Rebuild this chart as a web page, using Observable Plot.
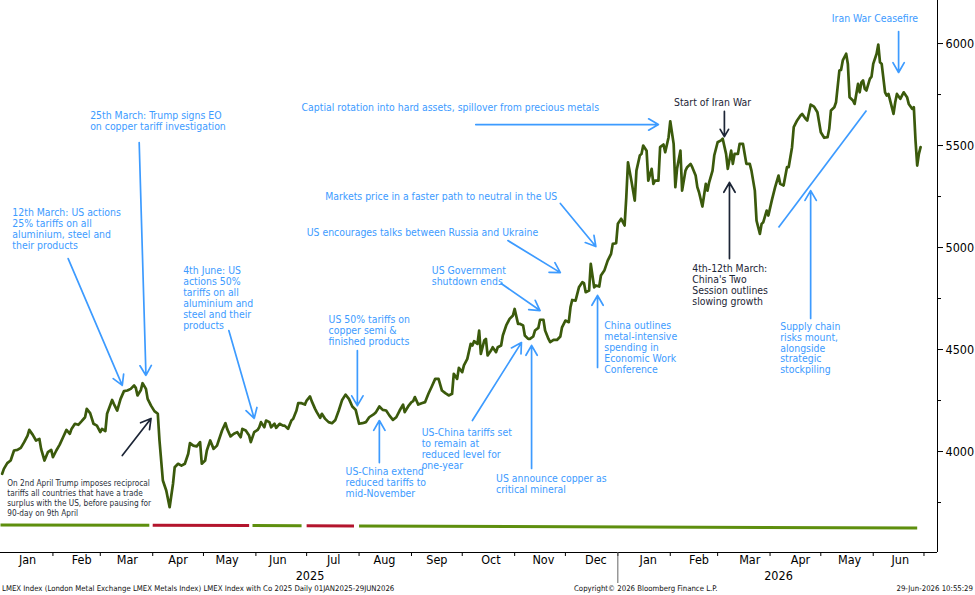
<!DOCTYPE html>
<html><head><meta charset="utf-8">
<script src="https://cdn.jsdelivr.net/npm/d3@7"></script>
<script src="https://cdn.jsdelivr.net/npm/@observablehq/plot@0.6"></script>
<style>
body{margin:0;background:#fff;}
#wrap{width:975px;height:595px;position:relative;overflow:hidden;background:#fff;font-family:"DejaVu Sans Condensed","DejaVu Sans",sans-serif;}
#footer{position:absolute;left:0;top:583px;width:975px;height:12px;font-size:7.75px;color:#111;}
#footer span{position:absolute;top:1px;white-space:nowrap;}
</style></head><body>
<div id="wrap"><div id="chart"></div>
<div id="footer"><span id="f1" style="left:2px"></span><span id="f2" style="left:574px"></span><span id="f3" style="right:2px"></span></div>
</div>
<script>
// ---- LMEX index series ----
const dates = ["2025-01-02","2025-01-03","2025-01-05","2025-01-07","2025-01-09","2025-01-11","2025-01-13","2025-01-15","2025-01-17","2025-01-18","2025-01-20","2025-01-22","2025-01-24","2025-01-25","2025-01-27","2025-01-29","2025-01-31","2025-02-01","2025-02-03","2025-02-05","2025-02-07","2025-02-09","2025-02-11","2025-02-12","2025-02-14","2025-02-16","2025-02-18","2025-02-20","2025-02-21","2025-02-23","2025-02-25","2025-02-27","2025-03-01","2025-03-02","2025-03-04","2025-03-05","2025-03-08","2025-03-09","2025-03-11","2025-03-13","2025-03-15","2025-03-17","2025-03-19","2025-03-21","2025-03-22","2025-03-23","2025-03-25","2025-03-26","2025-03-28","2025-03-29","2025-03-31","2025-04-02","2025-04-04","2025-04-05","2025-04-07","2025-04-09","2025-04-11","2025-04-13","2025-04-14","2025-04-16","2025-04-18","2025-04-20","2025-04-22","2025-04-23","2025-04-25","2025-04-27","2025-04-29","2025-04-30","2025-05-02","2025-05-03","2025-05-05","2025-05-07","2025-05-09","2025-05-10","2025-05-12","2025-05-14","2025-05-15","2025-05-17","2025-05-19","2025-05-21","2025-05-23","2025-05-24","2025-05-26","2025-05-28","2025-05-29","2025-05-31","2025-06-02","2025-06-03","2025-06-04","2025-06-06","2025-06-07","2025-06-09","2025-06-10","2025-06-12","2025-06-13","2025-06-15","2025-06-17","2025-06-18","2025-06-20","2025-06-22","2025-06-23","2025-06-25","2025-06-26","2025-06-28","2025-06-30","2025-07-01","2025-07-03","2025-07-04","2025-07-06","2025-07-07","2025-07-09","2025-07-10","2025-07-12","2025-07-14","2025-07-16","2025-07-18","2025-07-20","2025-07-22","2025-07-24","2025-07-26","2025-07-28","2025-07-30","2025-08-01","2025-08-03","2025-08-05","2025-08-07","2025-08-10","2025-08-11","2025-08-13","2025-08-15","2025-08-17","2025-08-19","2025-08-21","2025-08-23","2025-08-25","2025-08-27","2025-08-28","2025-08-30","2025-09-01","2025-09-02","2025-09-03","2025-09-05","2025-09-07","2025-09-09","2025-09-11","2025-09-13","2025-09-15","2025-09-17","2025-09-19","2025-09-21","2025-09-23","2025-09-25","2025-09-26","2025-09-28","2025-09-29","2025-10-01","2025-10-02","2025-10-04","2025-10-06","2025-10-07","2025-10-08","2025-10-10","2025-10-11","2025-10-12","2025-10-14","2025-10-15","2025-10-16","2025-10-18","2025-10-19","2025-10-21","2025-10-22","2025-10-24","2025-10-25","2025-10-27","2025-10-29","2025-10-31","2025-11-01","2025-11-03","2025-11-04","2025-11-06","2025-11-07","2025-11-09","2025-11-10","2025-11-12","2025-11-13","2025-11-15","2025-11-16","2025-11-18","2025-11-19","2025-11-21","2025-11-22","2025-11-24","2025-11-26","2025-11-28","2025-11-29","2025-12-01","2025-12-03","2025-12-04","2025-12-05","2025-12-07","2025-12-09","2025-12-11","2025-12-12","2025-12-13","2025-12-15","2025-12-16","2025-12-18","2025-12-19","2025-12-21","2025-12-22","2025-12-24","2025-12-26","2025-12-28","2025-12-29","2025-12-31","2026-01-01","2026-01-03","2026-01-05","2026-01-06","2026-01-07","2026-01-09","2026-01-11","2026-01-12","2026-01-14","2026-01-15","2026-01-16","2026-01-18","2026-01-19","2026-01-21","2026-01-22","2026-01-23","2026-01-25","2026-01-26","2026-01-28","2026-01-29","2026-01-31","2026-02-01","2026-02-03","2026-02-04","2026-02-05","2026-02-07","2026-02-08","2026-02-10","2026-02-11","2026-02-13","2026-02-14","2026-02-16","2026-02-17","2026-02-18","2026-02-20","2026-02-22","2026-02-23","2026-02-24","2026-02-26","2026-02-27","2026-03-01","2026-03-03","2026-03-04","2026-03-06","2026-03-07","2026-03-09","2026-03-10","2026-03-11","2026-03-13","2026-03-14","2026-03-16","2026-03-17","2026-03-18","2026-03-20","2026-03-21","2026-03-23","2026-03-24","2026-03-26","2026-03-27","2026-03-28","2026-03-30","2026-03-31","2026-04-02","2026-04-04","2026-04-06","2026-04-07","2026-04-09","2026-04-11","2026-04-12","2026-04-14","2026-04-15","2026-04-17","2026-04-19","2026-04-20","2026-04-22","2026-04-23","2026-04-25","2026-04-27","2026-04-29","2026-04-30","2026-05-01","2026-05-03","2026-05-05","2026-05-06","2026-05-07","2026-05-09","2026-05-10","2026-05-12","2026-05-13","2026-05-14","2026-05-16","2026-05-17","2026-05-18","2026-05-20","2026-05-21","2026-05-23","2026-05-24","2026-05-25","2026-05-26","2026-05-27","2026-05-28","2026-05-30","2026-05-31","2026-06-01","2026-06-03","2026-06-04","2026-06-05","2026-06-06","2026-06-08","2026-06-09","2026-06-10","2026-06-12","2026-06-13","2026-06-14","2026-06-15","2026-06-17","2026-06-18","2026-06-19","2026-06-21","2026-06-22","2026-06-24","2026-06-25","2026-06-26","2026-06-27","2026-06-28","2026-06-29"];
const lmex = [3891,3915,3943,3956,4005,4008,4018,4046,4078,4106,4083,4054,4062,4013,3956,3997,4008,3972,4005,4034,4070,4106,4087,4111,4136,4131,4149,4168,4209,4188,4136,4127,4095,4111,4100,4185,4253,4234,4201,4258,4296,4299,4307,4324,4312,4275,4302,4335,4307,4258,4225,4198,4185,4054,3858,3809,3727,3842,3923,3940,3931,3940,3989,4041,4029,4025,4046,3940,3956,4005,4054,4013,4029,4054,4103,4139,4111,4074,4087,4095,4070,4111,4103,4078,4046,4095,4106,4119,4144,4119,4152,4144,4119,4136,4116,4136,4127,4127,4111,4152,4160,4201,4237,4237,4230,4250,4270,4247,4209,4193,4165,4185,4160,4144,4139,4155,4201,4253,4279,4258,4221,4204,4136,4139,4144,4168,4185,4193,4221,4204,4201,4176,4155,4168,4201,4230,4193,4221,4242,4247,4267,4230,4237,4242,4283,4319,4356,4356,4299,4286,4275,4283,4381,4356,4410,4389,4422,4454,4528,4520,4541,4528,4593,4479,4544,4552,4471,4495,4511,4487,4511,4520,4569,4618,4650,4667,4699,4626,4626,4618,4569,4552,4552,4564,4593,4606,4646,4646,4593,4552,4536,4547,4547,4564,4609,4642,4634,4707,4743,4740,4805,4830,4825,4781,4789,4920,4805,4814,4809,4863,4887,4936,4969,5018,5021,5116,5141,5108,5247,5418,5328,5230,5377,5451,5459,5500,5475,5328,5386,5312,5328,5328,5492,5505,5467,5541,5619,5508,5296,5386,5475,5279,5377,5394,5410,5394,5353,5296,5271,5201,5312,5279,5320,5377,5451,5516,5525,5533,5459,5386,5475,5410,5459,5459,5508,5508,5459,5410,5410,5377,5279,5132,5067,5116,5124,5181,5157,5230,5296,5353,5312,5304,5394,5394,5492,5590,5623,5647,5655,5631,5623,5701,5691,5663,5614,5565,5538,5541,5582,5672,5688,5712,5868,5871,5917,5950,5900,5737,5721,5704,5802,5761,5810,5819,5778,5770,5827,5838,5900,5950,5995,5908,5900,5761,5745,5753,5688,5655,5712,5753,5729,5745,5761,5737,5704,5680,5688,5525,5402,5459,5492];

// ---- regime bar under the chart ----
const barStart = ["2025-01-01","2025-04-01","2025-05-30","2025-07-01","2025-08-01"];
const barEnd   = ["2025-03-30","2025-05-28","2025-06-28","2025-07-29","2026-06-27"];
const barState = ["up","down","up","down","up"];
const barLevelStart = [3640,3638,3637,3636,3635];
const barLevelEnd   = [3639,3637,3636,3635,3625];

// ---- axis ticks and labels ----
const yTicks = [4000,4500,5000,5500,6000];
const yMinorTicks = [3750,4250,4750,5250,5750];
const monthStarts = ["2025-02-01","2025-03-01","2025-04-01","2025-05-01","2025-06-01","2025-07-01","2025-08-01","2025-09-01","2025-10-01","2025-11-01","2025-12-01","2026-01-01","2026-02-01","2026-03-01","2026-04-01","2026-05-01","2026-06-01","2026-07-01"];
const monthLabelDates = ["2025-01-17","2025-02-18","2025-03-17","2025-04-16","2025-05-15","2025-06-14","2025-07-17","2025-08-16","2025-09-16","2025-10-18","2025-11-18","2025-12-19","2026-01-19","2026-02-18","2026-03-20","2026-04-19","2026-05-18","2026-06-17"];
const monthLabels = ["Jan","Feb","Mar","Apr","May","Jun","Jul","Aug","Sep","Oct","Nov","Dec","Jan","Feb","Mar","Apr","May","Jun"];
const yearLabelDates = ["2025-07-03","2026-04-06"];
const yearLabels = ["2025","2026"];
const yearBreaks = ["2026-01-01"];

// ---- annotations ----
const noteText = [
  "25th March: Trump signs EO\non copper tariff investigation",
  "12th March: US actions\n25% tariffs on all\naluminium, steel and\ntheir products",
  "4th June: US\nactions 50%\ntariffs on all\naluminium and\nsteel and their\nproducts",
  "US 50% tariffs on\ncopper semi &\nfinished products",
  "US-China extend\nreduced tariffs to\nmid-November",
  "US Government\nshutdown ends",
  "US-China tariffs set\nto remain at\nreduced level for\none-year",
  "US announce copper as\ncritical mineral",
  "China outlines\nmetal-intensive\nspending in\nEconomic Work\nConference",
  "Supply chain\nrisks mount,\nalongside\nstrategic\nstockpiling",
  "Captial rotation into hard assets, spillover from precious metals",
  "US encourages talks between Russia and Ukraine",
  "Markets price in a faster path to neutral in the US",
  "4th-12th March:\nChina's Two\nSession outlines\nslowing growth",
  "Start of Iran War",
  "Iran War Ceasefire",
  "On 2nd April Trump imposes reciprocal\ntariffs all countries that have a trade\nsurplus with the US, before pausing for\n90-day on 9th April"
];
const noteDate = ["2025-02-23","2025-01-08","2025-04-19","2025-07-14","2025-07-24","2025-09-13","2025-09-07","2025-10-21","2025-12-24","2026-04-07","2025-06-28","2025-07-01","2025-07-12","2026-02-14","2026-02-26","2026-06-02","2025-01-05"];
const noteValue = [5667,5191,4907,4669,3924,4907,4113,3887,4637,4635,5706,5096,5272,4917,5730,6140,3868];
const noteKind = ["blue","blue","blue","blue","blue","blue","blue","blue","blue","blue","blue","blue","blue","dark","darkMid","blueMid","darkSmall"];

const arrowFromDate = ["2025-03-24","2025-02-10","2025-05-16","2025-07-31","2025-08-13","2025-10-24","2025-10-28","2025-11-28","2025-10-09","2025-10-07","2025-11-11","2025-12-20","2026-03-05","2026-03-08","2026-04-25","2026-06-16","2025-03-14","2026-04-06"];
const arrowFromValue = [5515,4946,4593,4495,3946,4824,5034,5216,5603,4152,3917,4412,5667,4946,4652,6059,3980,5098];
const arrowToDate = ["2025-03-28","2025-03-14","2025-05-31","2025-07-31","2025-08-13","2025-11-16","2025-11-28","2025-12-19","2026-01-25","2025-11-05","2025-11-11","2025-12-20","2026-03-05","2026-03-08","2026-04-25","2026-06-16","2025-03-31","2026-05-28"];
const arrowToValue = [4373,4324,4162,4225,4152,4691,4877,5005,5603,4534,4520,4765,5544,5319,5279,5858,4162,5672];
const arrowKind = ["blue","blue","blue","blue","blue","blue","blue","blue","blue","blue","blue","blue","dark","dark","blue","blue","dark","blueLine"];

const footerLeft = "LMEX Index (London Metal Exchange LMEX Metals Index) LMEX Index with Co 2025 Daily 01JAN2025-29JUN2026";
const footerMid = "Copyright\u00A9 2026 Bloomberg Finance L.P.";
const footerRight = "29-Jun-2026 10:55:29";

// ---- build ----
const parse = d3.utcParse("%Y-%m-%d");
const series = dates.map((d, i) => ({date: parse(d), value: lmex[i]}));
const bars = barStart.map((d, i) => ({x1: parse(d), x2: parse(barEnd[i]), y1: barLevelStart[i], y2: barLevelEnd[i], state: barState[i]}));
const notes = noteText.map((t, i) => ({text: t, date: parse(noteDate[i]), value: noteValue[i], kind: noteKind[i]}));
const arrows = arrowFromDate.map((d, i) => ({x1: parse(d), y1: arrowFromValue[i], x2: parse(arrowToDate[i]), y2: arrowToValue[i], kind: arrowKind[i]}));
const monthLabelMap = new Map(monthLabelDates.map((d, i) => [+parse(d), monthLabels[i]]));
const yearLabelMap = new Map(yearLabelDates.map((d, i) => [+parse(d), yearLabels[i]]));

const BLUE = "#3d9bff", DARK = "#1c2536", LINE = "#3b5a0c";
const FONT = "'DejaVu Sans Condensed','DejaVu Sans',sans-serif";
const xEnd = parse("2026-07-09");
const NOTE = 10.4;

const chart = Plot.plot({
  width: 975, height: 583,
  marginLeft: 0, marginRight: 38, marginTop: 0, marginBottom: 31,
  style: {fontFamily: FONT, fontSize: "12px", color: "#000", background: "#fff", overflow: "visible"},
  x: {type: "utc", domain: [parse("2025-01-01"), xEnd], axis: null},
  y: {domain: [3505, 6211], axis: null},
  marks: [
    Plot.ruleY([3505], {stroke: "#000", strokeWidth: 1}),
    Plot.ruleX([xEnd], {stroke: "#000", strokeWidth: 1}),
    Plot.axisY({anchor: "right", ticks: yTicks, tickSize: 5, tickPadding: 3, tickFormat: d3.format("d"), fontSize: 12.5, stroke: "#000"}),
    Plot.axisY({anchor: "right", ticks: yMinorTicks, tickSize: 3, tickFormat: () => "", stroke: "#000"}),
    Plot.axisX({anchor: "bottom", ticks: monthStarts.map(parse), tickSize: 4, tickFormat: () => "", stroke: "#000"}),
    Plot.axisX({anchor: "bottom", ticks: monthLabelDates.map(parse), tickSize: 0, tickPadding: 3, tickFormat: d => monthLabelMap.get(+d), fontSize: 12.5}),
    Plot.axisX({anchor: "bottom", ticks: yearLabelDates.map(parse), tickSize: 0, tickPadding: 19, tickFormat: d => yearLabelMap.get(+d), fontSize: 12.5}),
    Plot.axisX({anchor: "bottom", ticks: yearBreaks.map(parse), tickSize: 31, tickFormat: () => "", stroke: "#666"}),
    Plot.link(bars, {x1: "x1", x2: "x2", y1: "y1", y2: "y2", stroke: d => d.state === "up" ? "#5e8f0e" : "#b3152d", strokeWidth: 3}),
    Plot.arrow(arrows, {filter: d => d.kind === "blue", x1: "x1", y1: "y1", x2: "x2", y2: "y2", stroke: BLUE, strokeWidth: 1.7, headLength: 10}),
    Plot.arrow(arrows, {filter: d => d.kind === "dark", x1: "x1", y1: "y1", x2: "x2", y2: "y2", stroke: DARK, strokeWidth: 1.7, headLength: 10}),
    Plot.link(arrows, {filter: d => d.kind === "blueLine", x1: "x1", y1: "y1", x2: "x2", y2: "y2", stroke: BLUE, strokeWidth: 1.7}),
    Plot.line(series, {x: "date", y: "value", stroke: LINE, strokeWidth: 2.7, strokeLinejoin: "round"}),
    Plot.text(notes, {filter: d => d.kind === "blue", x: "date", y: "value", text: "text", fill: BLUE, textAnchor: "start", lineAnchor: "top", fontSize: NOTE, lineHeight: 1.05}),
    Plot.text(notes, {filter: d => d.kind === "dark", x: "date", y: "value", text: "text", fill: DARK, textAnchor: "start", lineAnchor: "top", fontSize: NOTE, lineHeight: 1.05}),
    Plot.text(notes, {filter: d => d.kind === "darkMid", x: "date", y: "value", text: "text", fill: DARK, textAnchor: "middle", lineAnchor: "top", fontSize: NOTE}),
    Plot.text(notes, {filter: d => d.kind === "blueMid", x: "date", y: "value", text: "text", fill: BLUE, textAnchor: "middle", lineAnchor: "top", fontSize: NOTE}),
    Plot.text(notes, {filter: d => d.kind === "darkSmall", x: "date", y: "value", text: "text", fill: "#2a2f3a", textAnchor: "start", lineAnchor: "top", fontSize: 8.2, lineHeight: 1.22})
  ]
});
document.getElementById("chart").appendChild(chart);
document.getElementById("f1").textContent = footerLeft;
document.getElementById("f2").textContent = footerMid;
document.getElementById("f3").textContent = footerRight;
</script>
</body></html>
